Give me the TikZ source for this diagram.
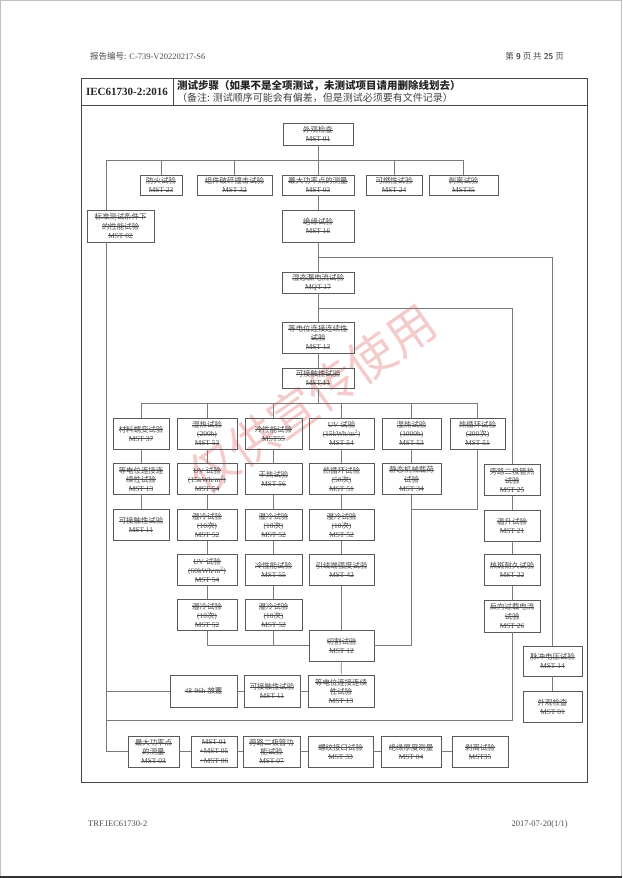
\documentclass[tikz,border=0pt]{standalone}
\usepackage{fontspec}
\setmainfont{Liberation Serif}
\newfontfamily\cjkf{Noto Sans CJK SC}
\definecolor{boxc}{HTML}{5A5A5A}
\definecolor{linec}{HTML}{7A7A7A}
\definecolor{txtc}{HTML}{4A4A4A}
\definecolor{wmc}{HTML}{E06060}
\newcommand\zh[1]{{\cjkf #1}}
\newsavebox\skbox
\newcommand\sk[1]{\sbox\skbox{#1}\rlap{\rule[0.32em]{\wd\skbox}{0.4pt}}\usebox\skbox}
\tikzset{
  tb/.style={draw=boxc, line width=0.7pt, inner sep=0pt, align=center, text=txtc, font=\fontsize{7.4}{9.1}\selectfont},
  ln/.style={draw=linec, line width=0.6pt},
  frm/.style={draw=gray!55!black, line width=0.7pt},
  plain/.style={inner sep=0pt, text=txtc},
}
\begin{document}
\begin{tikzpicture}[x=1pt,y=-1pt]
\useasboundingbox (0,0) rectangle (622,878);
\fill[white] (0,0) rectangle (622,878);
\draw[gray!50, line width=1pt] (0.5,0.5) rectangle (621.5,877.5);
\draw[gray!40!black, line width=2pt] (0,877) -- (622,877);

% page header / footer
\node[plain, anchor=base west, font=\fontsize{8.5}{10}\selectfont] (hdl) at (90,59) {\zh{报告编号:} C-739-V20220217-S6};
\node[plain, anchor=base east, font=\fontsize{8.5}{10}\selectfont] (hdr) at (564,59) {\zh{第} \textbf{\sffamily 9} \zh{页 共} \textbf{\sffamily 25} \zh{页}};
\node[plain, anchor=base west, font=\fontsize{8.5}{10}\selectfont] (ftl) at (88,826) {TRF.IEC61730-2};
\node[plain, anchor=base east, font=\fontsize{8.5}{10}\selectfont] (ftr) at (568,826) {2017-07-20(1/1)};

% frame
\draw[frm] (81,78) rectangle (587,782);
\draw[frm] (81,105) -- (587,105);
\draw[frm] (173,78) -- (173,105);
\node[plain, text=black!85, font=\fontsize{11}{12}\selectfont\bfseries] (std) at (127,92) {IEC61730-2:2016};
\node[plain, anchor=base west, text=black!85, font=\fontsize{10.5}{11}\selectfont\bfseries] (tt1) at (177,89.5) {\zh{测试步骤（如果不是全项测试，未测试项目请用删除线划去）}};
\node[plain, anchor=base west, text=black!75, font=\fontsize{10}{11}\selectfont] (tt2) at (177,101) {\zh{（备注: 测试顺序可能会有偏差，但是测试必须要有文件记录）}};

% watermark
\node[rotate=35, text=wmc, opacity=0.33, inner sep=0pt, font=\cjkf\fontsize{48}{48}\selectfont] (wm) at (312,399) {仅供宣传使用};

% spine
\node[tb, minimum width=70pt, minimum height=22pt] (n01) at (318,134) {\sk{\zh{外观检查}}\\\sk{MST 01}};
\node[tb, minimum width=42pt, minimum height=20pt] (f23) at (161,185) {\sk{\zh{防火试验}}\\\sk{MST 23}};
\node[tb, minimum width=75pt, minimum height=20pt] (p32) at (234.5,185) {\sk{\zh{组件破碎撞击试验}}\\\sk{MST 32}};
\node[tb, minimum width=72pt, minimum height=20pt] (m03) at (318,185) {\sk{\zh{最大功率点的测量}}\\\sk{MST 03}};
\node[tb, minimum width=56pt, minimum height=20pt] (k24) at (394,185) {\sk{\zh{可燃性试验}}\\\sk{MST 24}};
\node[tb, minimum width=69pt, minimum height=20pt] (b35) at (463.5,185) {\sk{\zh{剥离试验}}\\\sk{MST35}};
\node[tb, minimum width=67pt, minimum height=32pt] (s02) at (120.5,226) {\sk{\zh{标准测试条件下}}\\\sk{\zh{的性能试验}}\\\sk{MST 02}};
\node[tb, minimum width=72pt, minimum height=32pt] (i16) at (318,226) {\sk{\zh{绝缘试验}}\\\sk{MST 16}};
\node[tb, minimum width=72pt, minimum height=21pt] (q17) at (318,282.5) {\sk{\zh{湿态漏电流试验}}\\\sk{MQT 17}};
\node[tb, minimum width=72pt, minimum height=31pt] (e13) at (318,337.5) {\sk{\zh{等电位连接连续性}}\\\sk{\zh{试验}}\\\sk{MST 13}};
\node[tb, minimum width=72pt, minimum height=20pt] (a11) at (318,378) {\sk{\zh{可接触性试验}}\\\sk{MST 11}};

% grid column 1
\node[tb, minimum width=56pt, minimum height=31pt] (c1r1) at (141,433.5) {\sk{\zh{材料蠕变试验}}\\\sk{MST 37}};
\node[tb, minimum width=56pt, minimum height=31pt] (c1r2) at (141,479) {\sk{\zh{等电位连接连}}\\\sk{\zh{续性试验}}\\\sk{MST 13}};
\node[tb, minimum width=56pt, minimum height=31pt] (c1r3) at (141,525) {\sk{\zh{可接触性试验}}\\\sk{MST 11}};
% column 2
\node[tb, minimum width=60pt, minimum height=31pt] (c2r1) at (207,433.5) {\sk{\zh{湿热试验}}\\\sk{(200h)}\\\sk{MST 53}};
\node[tb, minimum width=60pt, minimum height=31pt] (c2r2) at (207,479) {\sk{UV \zh{试验}}\\\sk{(15kWh/m\textsuperscript{2})}\\\sk{MST 54}};
\node[tb, minimum width=60pt, minimum height=31pt] (c2r3) at (207,525) {\sk{\zh{湿冷试验}}\\\sk{(10\zh{次})}\\\sk{MST 52}};
\node[tb, minimum width=60pt, minimum height=31pt] (c2r4) at (207,570) {\sk{UV \zh{试验}}\\\sk{(60kWh/m\textsuperscript{2})}\\\sk{MST 54}};
\node[tb, minimum width=60pt, minimum height=31pt] (c2r5) at (207,615) {\sk{\zh{湿冷试验}}\\\sk{(10\zh{次})}\\\sk{MST 52}};
% column 3
\node[tb, minimum width=57pt, minimum height=31pt] (c3r1) at (273.5,433.5) {\sk{\zh{冷性能试验}}\\\sk{MST55}};
\node[tb, minimum width=57pt, minimum height=31pt] (c3r2) at (273.5,479) {\sk{\zh{干热试验}}\\\sk{MST 56}};
\node[tb, minimum width=57pt, minimum height=31pt] (c3r3) at (273.5,525) {\sk{\zh{湿冷试验}}\\\sk{(10\zh{次})}\\\sk{MST 52}};
\node[tb, minimum width=57pt, minimum height=31pt] (c3r4) at (273.5,570) {\sk{\zh{冷性能试验}}\\\sk{MST 55}};
\node[tb, minimum width=57pt, minimum height=31pt] (c3r5) at (273.5,615) {\sk{\zh{湿冷试验}}\\\sk{(10\zh{次})}\\\sk{MST 52}};
% column 4
\node[tb, minimum width=65pt, minimum height=31pt] (c4r1) at (341.5,433.5) {\sk{UV \zh{试验}}\\\sk{(15kWh/m\textsuperscript{2})}\\\sk{MST 54}};
\node[tb, minimum width=65pt, minimum height=31pt] (c4r2) at (341.5,479) {\sk{\zh{热循环试验}}\\\sk{(50\zh{次})}\\\sk{MST 51}};
\node[tb, minimum width=65pt, minimum height=31pt] (c4r3) at (341.5,525) {\sk{\zh{湿冷试验}}\\\sk{(10\zh{次})}\\\sk{MST 52}};
\node[tb, minimum width=65pt, minimum height=31pt] (c4r4) at (341.5,570) {\sk{\zh{引线端强度试验}}\\\sk{MST 42}};
% column 5
\node[tb, minimum width=59pt, minimum height=31pt] (c5r1) at (411.5,433.5) {\sk{\zh{湿热试验}}\\\sk{(1000h)}\\\sk{MST 53}};
\node[tb, minimum width=59pt, minimum height=31pt] (c5r2) at (411.5,479) {\sk{\zh{静态机械载荷}}\\\sk{\zh{试验}}\\\sk{MST 34}};
% column 6
\node[tb, minimum width=55pt, minimum height=31pt] (c6r1) at (477.5,433.5) {\sk{\zh{热循环试验}}\\\sk{(200\zh{次})}\\\sk{MST 51}};
% column 7
\node[tb, minimum width=56pt, minimum height=31pt] (c7r2) at (512,480) {\sk{\zh{旁路二极管热}}\\\sk{\zh{试验}}\\\sk{MST 25}};
\node[tb, minimum width=56pt, minimum height=31pt] (c7r3) at (512,525.5) {\sk{\zh{温升试验}}\\\sk{MST 21}};
\node[tb, minimum width=56pt, minimum height=31pt] (c7r4) at (512,570) {\sk{\zh{热斑耐久试验}}\\\sk{MST 22}};
\node[tb, minimum width=56pt, minimum height=32pt] (c7r5) at (512,616) {\sk{\zh{反向过载电流}}\\\sk{\zh{试验}}\\\sk{MST 26}};
% column 8
\node[tb, minimum width=59pt, minimum height=30pt] (c8a) at (552.5,661) {\sk{\zh{脉冲电压试验}}\\\sk{MST 14}};
\node[tb, minimum width=59pt, minimum height=31pt] (c8b) at (552.5,706.5) {\sk{\zh{外观检查}}\\\sk{MST 01}};
% cut and after
\node[tb, minimum width=65pt, minimum height=31pt] (cut) at (341.5,645.5) {\sk{\zh{切割试验}}\\\sk{MST 12}};
\node[tb, minimum width=66pt, minimum height=32pt] (e13b) at (341,691) {\sk{\zh{等电位连接连续}}\\\sk{\zh{性试验}}\\\sk{MST 13}};
\node[tb, minimum width=56pt, minimum height=32pt] (a11b) at (272,691) {\sk{\zh{可接触性试验}}\\\sk{MST 11}};
\node[tb, minimum width=67pt, minimum height=32pt] (h48) at (203.5,691) {\sk{48-96h \zh{放置}}};
% bottom row
\node[tb, minimum width=51pt, minimum height=31pt] (z1) at (153.5,751.5) {\sk{\zh{最大功率点}}\\\sk{\zh{的测量}}\\\sk{MST 03}};
\node[tb, minimum width=46pt, minimum height=31pt] (z2) at (214,751.5) {\sk{MST 01}\\\sk{+MST 05}\\\sk{+MST 06}};
\node[tb, minimum width=57pt, minimum height=31pt] (z3) at (271.5,751.5) {\sk{\zh{旁路二极管功}}\\\sk{\zh{能试验}}\\\sk{MST 07}};
\node[tb, minimum width=65pt, minimum height=31pt] (z4) at (340.5,751.5) {\sk{\zh{螺纹接口试验}}\\\sk{MST 33}};
\node[tb, minimum width=60pt, minimum height=31pt] (z5) at (411,751.5) {\sk{\zh{绝缘厚度测量}}\\\sk{MST 04}};
\node[tb, minimum width=56pt, minimum height=31pt] (z6) at (480,751.5) {\sk{\zh{剥离试验}}\\\sk{MST35}};

% junction coordinates
\coordinate (jt) at (318,160);
\coordinate (jl) at (106,160);
\coordinate (j257) at (318,257);
\coordinate (j308) at (318,308);
\coordinate (j403) at (318,403);
\coordinate (j509) at (0,509);
\coordinate (j720) at (0,720.5);

% connectors
\draw[ln] (n01.south) -- (m03.north);
\draw[ln] (jl) -- (b35.north |- jt);
\foreach \n in {f23,p32,k24,b35} \draw[ln] (\n.north |- jt) -- (\n.north);
\draw[ln] (m03.south) -- (i16.north);
\draw[ln] (i16.south) -- (q17.north);
\draw[ln] (j257) -- (c8a.north |- j257) -- (c8a.north);
\draw[ln] (q17.south) -- (e13.north);
\draw[ln] (j308) -- (c7r2.north |- j308) -- (c7r2.north);
\draw[ln] (e13.south) -- (a11.north);
\draw[ln] (a11.south) -- (j403);
\draw[ln] (c1r1.north |- j403) -- (c6r1.north |- j403);
\foreach \n in {c1r1,c2r1,c3r1,c4r1,c5r1,c6r1} \draw[ln] (\n.north |- j403) -- (\n.north);
\draw[ln] (c1r1) -- (c1r2);
\draw[ln] (c1r2) -- (c1r3);
\draw[ln] (c2r1) -- (c2r2);
\draw[ln] (c2r2) -- (c2r3);
\draw[ln] (c2r3) -- (c2r4);
\draw[ln] (c2r4) -- (c2r5);
\draw[ln] (c3r1) -- (c3r2);
\draw[ln] (c3r2) -- (c3r3);
\draw[ln] (c3r3) -- (c3r4);
\draw[ln] (c3r4) -- (c3r5);
\draw[ln] (c4r1) -- (c4r2);
\draw[ln] (c4r2) -- (c4r3);
\draw[ln] (c4r3) -- (c4r4);
\draw[ln] (c4r4) -- (cut);
\draw[ln] (c5r1) -- (c5r2);
\draw[ln] (c2r5.south) -- (c2r5.south |- cut.west) -- (cut.west);
\draw[ln] (c3r5.south) -- (c3r5.south |- cut.west);
\draw[ln] (c5r2.south) -- (c5r2.south |- cut.east) -- (cut.east);
\draw[ln] (c6r1.south) -- (c6r1.south |- j509) -- (c5r2.south |- j509);
\draw[ln] (c7r2) -- (c7r3);
\draw[ln] (c7r3) -- (c7r4);
\draw[ln] (c7r4) -- (c7r5);
\draw[ln] (c7r5.south) -- (c7r5.south |- j720) -- (jl |- j720);
\draw[ln] (c8a) -- (c8b);
\draw[ln] (cut) -- (e13b);
\draw[ln] (e13b) -- (a11b);
\draw[ln] (a11b) -- (h48);
\draw[ln] (h48.west) -- (jl |- h48.west);
\draw[ln] (jl) -- (jl |- s02.north);
\draw[ln] (jl |- s02.south) -- (jl |- z1.west) -- (z1.west);
\draw[ln] (z1) -- (z2);
\draw[ln] (z2) -- (z3);
\draw[ln] (z3) -- (z4);
\draw[ln] (z4) -- (z5);
\draw[ln] (z5) -- (z6);
\end{tikzpicture}
\end{document}
